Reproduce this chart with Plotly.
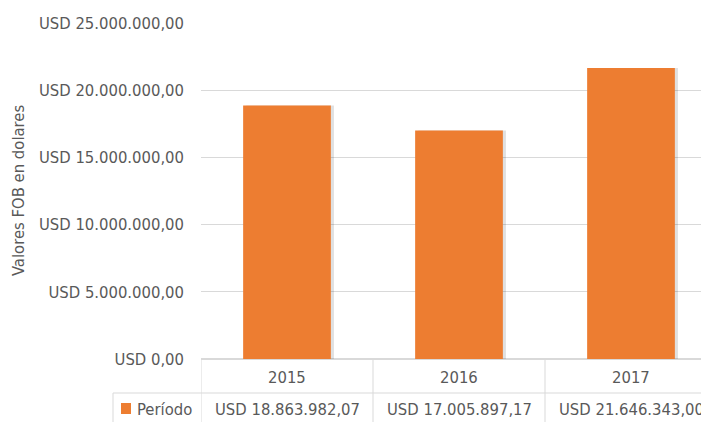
import glob
import plotly.graph_objects as go

years = ["2015", "2016", "2017"]
values = [18863982.07, 17005897.17, 21646343.00]
series_name = "Período"
y_title = "Valores FOB en dolares"

files = " ".join(glob.glob("/usr/share/fonts/**/*.*", recursive=True)
                 + glob.glob("/usr/local/share/fonts/**/*.*", recursive=True))
if "LiberationSansNarrow" in files:
    FONT, FS = "Liberation Sans Narrow", 19
elif "DejaVuSansCondensed" in files:
    FONT, FS = "DejaVu Sans Condensed", 16.5
elif "RobotoCondensed" in files:
    FONT, FS = "Roboto Condensed", 18
else:
    FONT, FS = "Open Sans", 16

TXT = "#595959"
GRID = "#D9D9D9"
BAR = "#ED7D31"

def fmt(v):
    s = f"{v:,.2f}"
    s = s.replace(",", "X").replace(".", ",").replace("X", ".")
    return "USD " + s

x = list(range(len(years)))
BW = 0.51

fig = go.Figure()
fig.add_trace(go.Bar(
    x=x, y=values, width=BW, offset=-BW / 2 + 0.018,
    marker=dict(color="rgba(0,0,0,0.12)", line=dict(width=0)),
    showlegend=False, hoverinfo="skip",
))
fig.add_trace(go.Bar(
    x=x, y=values, name=series_name, width=BW, offset=-BW / 2,
    marker=dict(color=BAR, line=dict(width=0)),
    showlegend=False,
))

OFF = 8  # page body margin
W, H = 709 - OFF, 422 - OFF
ml, mt = 201 - OFF, 23 - OFF
mr = 0
mb = H - (359 - OFF)
ph = H - mt - mb
pw = W - ml - mr
def py(pix):
    return (H - mb - (pix - OFF)) / ph
def px(pix):
    return (pix - OFF - ml) / pw

shapes = []
annotations = []
line = dict(color=GRID, width=1)
for xb in [-0.5, 0.5, 1.5]:
    shapes.append(dict(type="line", xref="x", yref="paper", x0=xb, x1=xb,
                       y0=py(360), y1=py(440), line=line, layer="above"))
shapes.append(dict(type="line", xref="paper", yref="paper", x0=px(113), x1=1.05,
                   y0=py(393), y1=py(393), line=line))
shapes.append(dict(type="line", xref="paper", yref="paper", x0=px(113), x1=px(113),
                   y0=py(393), y1=py(440), line=line))
shapes.append(dict(type="rect", xref="paper", yref="paper",
                   x0=px(121), x1=px(131), y0=py(414), y1=py(403),
                   fillcolor=BAR, line=dict(width=0)))
tf = dict(family=FONT, size=FS, color=TXT)
annotations.append(dict(xref="paper", yref="paper", x=px(135), y=py(409),
                        text=series_name, showarrow=False, xanchor="left", yanchor="middle",
                        font=tf))
for i, (yr, v) in enumerate(zip(years, values)):
    annotations.append(dict(xref="x", yref="paper", x=i, y=py(377), text=yr, showarrow=False,
                            xanchor="center", yanchor="middle", font=tf))
    annotations.append(dict(xref="x", yref="paper", x=i, y=py(409), text=fmt(v), showarrow=False,
                            xanchor="center", yanchor="middle", font=tf))
annotations.append(dict(xref="paper", yref="paper", x=px(18), y=py(191), text=y_title,
                        textangle=-90, showarrow=False, xanchor="center", yanchor="middle",
                        font=tf))

fig.update_layout(
    width=W, height=H,
    margin=dict(l=ml, r=mr, t=mt, b=mb, pad=0, autoexpand=False),
    paper_bgcolor="white", plot_bgcolor="white",
    separators=",.",
    barmode="overlay",
    font=dict(family=FONT, size=FS, color=TXT),
    shapes=shapes, annotations=annotations,
    xaxis=dict(range=[-0.5, -0.5 + pw / 172], showticklabels=False, showgrid=False,
               zeroline=False, showline=False, ticks="", fixedrange=True, automargin=False),
    yaxis=dict(range=[0, 25000000], dtick=5000000, tickformat=",.2f", tickprefix="USD ",
               showgrid=True, gridcolor=GRID, gridwidth=1, zeroline=True, zerolinecolor=GRID,
               showline=False, ticks="", ticklabelstandoff=16, automargin=False,
               tickfont=tf),
)

fig.write_html("out.html")
